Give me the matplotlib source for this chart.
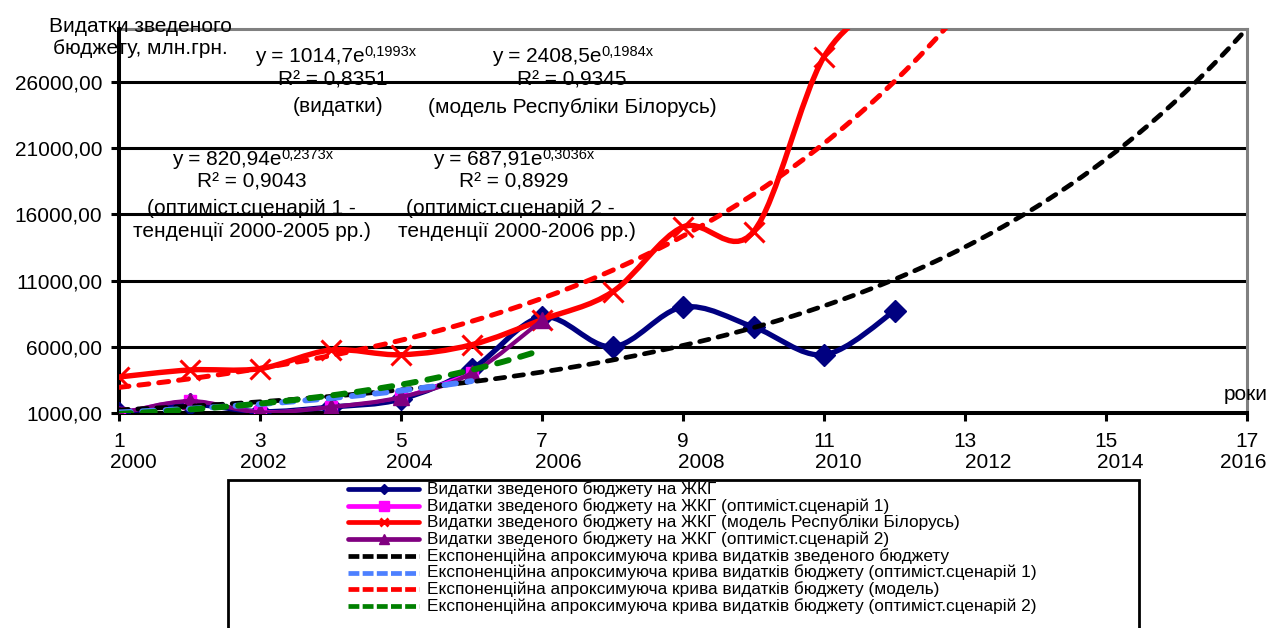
import numpy as np
import matplotlib
matplotlib.use('Agg')
import matplotlib.pyplot as plt
from matplotlib.path import Path
from matplotlib.patches import PathPatch, Rectangle
from matplotlib.lines import Line2D

plt.rcParams['font.family'] = ['Liberation Sans', 'DejaVu Sans']

# --- data ---
years_idx = [1, 2, 3, 4, 5, 6, 7, 8, 9, 10, 11, 12]
actual = [1000, 1650, 1100, 1450, 2050, 4300, 8250, 6000, 9000, 7500, 5400, 8700]

opt1_idx = [1, 2, 3, 4, 5, 6]
opt1 = [1000, 1900, 1100, 1450, 2200, 4000]

model_idx = [1, 2, 3, 4, 5, 6, 7, 8, 9, 10, 11, 12]
model = [3720, 4250, 4350, 5750, 5400, 6150, 8050, 10150, 15050, 14700, 27900, 32500]

opt2_idx = [1, 2, 3, 4, 5, 6, 7]
opt2 = [950, 1900, 1050, 1450, 2200, 4000, 8000]

# exponential trend lines y = a*exp(b*x), coefficients as printed on the chart
trend_actual = (1014.7, 0.1993, 1, 17)
trend_opt1 = (820.94, 0.2373, 1, 6)
trend_model = (2408.5, 0.1984, 1, 13)
trend_opt2 = (687.91, 0.3036, 1, 7)

x_ticks = [1, 3, 5, 7, 9, 11, 13, 15, 17]
year_labels = ['2000', '2002', '2004', '2006', '2008', '2010', '2012', '2014', '2016']
year_dx = [14, 3, 8, 16, 18, 14, 23, 14, -4]   # pixel offsets of year captions
y_ticks = [1000, 6000, 11000, 16000, 21000, 26000]

legend_labels = [
    'Видатки зведеного бюджету на ЖКГ',
    'Видатки зведеного бюджету на ЖКГ (оптиміст.сценарій 1)',
    'Видатки зведеного бюджету на ЖКГ (модель Республіки Білорусь)',
    'Видатки зведеного бюджету на ЖКГ (оптиміст.сценарій 2)',
    'Експоненційна апроксимуюча крива видатків зведеного бюджету',
    'Експоненційна апроксимуюча крива видатків бюджету (оптиміст.сценарій 1)',
    'Експоненційна апроксимуюча крива видатків бюджету (модель)',
    'Експоненційна апроксимуюча крива видатків бюджету (оптиміст.сценарій 2)',
]

W, H = 1269, 628


def fx(px):
    return px / W


def fy(py):
    return 1 - py / H


def smooth_path(xs, ys):
    """Excel-like smoothed line: cubic bezier through the points."""
    pts = np.column_stack([xs, ys]).astype(float)
    n = len(pts)
    verts = [pts[0]]
    codes = [Path.MOVETO]
    for i in range(n - 1):
        p0 = pts[max(i - 1, 0)]
        p1 = pts[i]
        p2 = pts[i + 1]
        p3 = pts[min(i + 2, n - 1)]
        verts += [p1 + (p2 - p0) / 6, p2 - (p3 - p1) / 6, p2]
        codes += [Path.CURVE4] * 3
    return Path(verts, codes)


fig = plt.figure(figsize=(W / 100, H / 100), dpi=100)
ax = fig.add_axes([fx(119), fy(413), (1247 - 119) / W, (413 - 29) / H])

series = [
    (years_idx, actual, '#000080', 3.8, 'D', 11.5),
    (opt1_idx, opt1, '#FF00FF', 2.4, 's', 9),
    (model_idx, model, '#FF0000', 3.9, 'x', 15),
    (opt2_idx, opt2, '#800080', 3.0, '^', 12),
]
for i, (xs, ys, col, lw, mk, ms) in enumerate(series):
    ax.add_patch(PathPatch(smooth_path(xs, ys), fill=False, edgecolor=col,
                           lw=lw, capstyle='round', joinstyle='round', zorder=3 + i * 0.1))
    ax.plot(xs, ys, linestyle='none', marker=mk, ms=ms, color=col,
            mew=2.2 if mk == 'x' else 1, zorder=3.05 + i * 0.1)

trends = [
    (trend_actual, 'black', 3.4),
    (trend_opt1, '#4D80FF', 4.2),
    (trend_model, '#FF0000', 3.6),
    (trend_opt2, '#008000', 4.3),
]
for j, ((a, b, x0, x1), col, lw) in enumerate(trends):
    xx = np.linspace(x0, x1, 200)
    line, = ax.plot(xx, a * np.exp(b * xx), color=col, lw=lw,
                    dash_capstyle='round', zorder=4 + j * 0.1)
    line.set_dashes((2.0, 2.0))

ax.set_xlim(1, 17)
ax.set_ylim(1000, 30000)
ax.set_xticks(x_ticks)
ax.set_xticklabels([str(t) for t in x_ticks])
ax.set_yticks(y_ticks)
ax.set_yticklabels([f'{v:.2f}'.replace('.', ',') for v in y_ticks])
ax.tick_params(axis='both', direction='out', length=6, width=2.2, labelsize=15, color='black')
ax.tick_params(axis='x', pad=8)
ax.tick_params(axis='y', pad=6)
ax.grid(axis='y', color='black', lw=2.2)
ax.set_axisbelow(True)
for side in ('left', 'bottom'):
    ax.spines[side].set_linewidth(2.9)
    ax.spines[side].set_color('black')
    ax.spines[side].set_zorder(2.7)
for side in ('top', 'right'):
    ax.spines[side].set_linewidth(2.2)
    ax.spines[side].set_color('#808080')
    ax.spines[side].set_zorder(2.5)

for t, lab, dx in zip(x_ticks, year_labels, year_dx):
    ax.annotate(lab, xy=(t, 0), xycoords=('data', 'axes fraction'), xytext=(dx, -49),
                textcoords='offset pixels', ha='center', va='center', fontsize=15,
                annotation_clip=False)

# axis captions
fig.text(fx(140), fy(37), 'Видатки зведеного\nбюджету, млн.грн.', ha='center', va='center',
         fontsize=15, linespacing=1.2)
fig.text(fx(1268), fy(394), 'роки', ha='right', va='center', fontsize=15)


# trend equations
def equation(px, py, base, sup):
    t = fig.text(fx(px), fy(py), base, ha='left', va='center', fontsize=15)
    ax.annotate(sup, xy=(1, 1), xycoords=t, xytext=(0, 2), textcoords='offset pixels',
                ha='left', va='top', fontsize=10.5, annotation_clip=False)


equation(255, 57, 'y = 1014,7e', '0,1993x')
fig.text(fx(333), fy(80), 'R² = 0,8351', ha='center', va='center', fontsize=15)
fig.text(fx(338), fy(107), '(видатки)', ha='center', va='center', fontsize=15)

equation(492, 57, 'y = 2408,5e', '0,1984x')
fig.text(fx(572), fy(80), 'R² = 0,9345', ha='center', va='center', fontsize=15)
fig.text(fx(572), fy(107), '(модель Республіки Білорусь)', ha='center', va='center', fontsize=15)

equation(172, 160, 'y = 820,94e', '0,2373x')
fig.text(fx(252), fy(182), 'R² = 0,9043', ha='center', va='center', fontsize=15)
fig.text(fx(251), fy(208), '(оптиміст.сценарій 1 -', ha='center', va='center', fontsize=15)
fig.text(fx(252), fy(231), 'тенденції 2000-2005 рр.)', ha='center', va='center', fontsize=15)

equation(433, 160, 'y = 687,91e', '0,3036x')
fig.text(fx(514), fy(182), 'R² = 0,8929', ha='center', va='center', fontsize=15)
fig.text(fx(510), fy(208), '(оптиміст.сценарій 2 -', ha='center', va='center', fontsize=15)
fig.text(fx(517), fy(231), 'тенденції 2000-2006 рр.)', ha='center', va='center', fontsize=15)

# legend (drawn by hand so the rows match the original spacing)
fig.add_artist(Rectangle((fx(228), fy(700)), (1139 - 228) / W, (700 - 480) / H,
                         transform=fig.transFigure, fill=False, edgecolor='black', lw=2))
styles = [
    ('#000080', '-', 'D', 5),
    ('#FF00FF', '-', 's', 7),
    ('#FF0000', '-', 'x', 6),
    ('#800080', '-', '^', 7),
    ('black', '--', None, 0),
    ('#4D80FF', '--', None, 0),
    ('#FF0000', '--', None, 0),
    ('#008000', '--', None, 0),
]
for k, (lab, (col, ls, mk, ms)) in enumerate(zip(legend_labels, styles)):
    yy = fy(489 + k * 16.7)
    ln = Line2D([fx(348), fx(419)], [yy, yy], transform=fig.transFigure, color=col,
                lw=3.4, solid_capstyle='round', dash_capstyle='butt')
    if ls == '--':
        ln.set_dashes((2.3, 0.7))
    fig.add_artist(ln)
    if mk:
        fig.add_artist(Line2D([fx(384)], [yy], transform=fig.transFigure, color=col,
                              marker=mk, ms=ms, mew=2 if mk == 'x' else 1, linestyle='none'))
    fig.text(fx(427), yy, lab, ha='left', va='center', fontsize=12.4)

fig.savefig('out.png', dpi=100)
